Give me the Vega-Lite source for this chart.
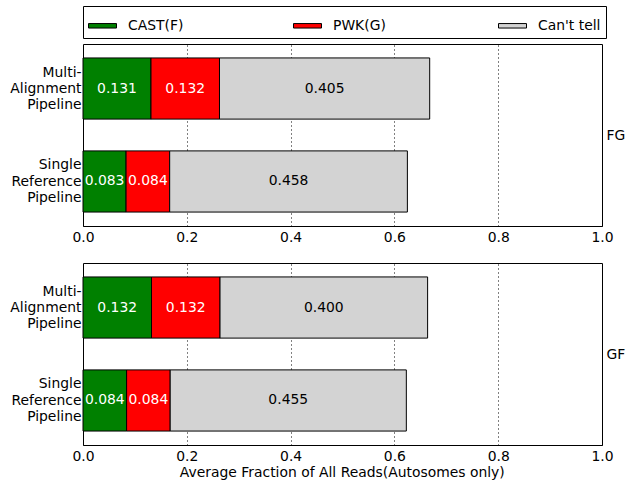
{
  "$schema": "https://vega.github.io/schema/vega-lite/v6.json",
  "padding": {"left": 9, "top": 5, "right": 0, "bottom": 2},
  "data": {
    "values": [
      {"panel": "FG", "pipeline": "Multi-|Alignment|Pipeline", "category": "CAST(F)", "order": 1, "value": 0.131},
      {"panel": "FG", "pipeline": "Multi-|Alignment|Pipeline", "category": "PWK(G)", "order": 2, "value": 0.132},
      {"panel": "FG", "pipeline": "Multi-|Alignment|Pipeline", "category": "Can't tell", "order": 3, "value": 0.405},
      {"panel": "FG", "pipeline": "Single|Reference|Pipeline", "category": "CAST(F)", "order": 1, "value": 0.083},
      {"panel": "FG", "pipeline": "Single|Reference|Pipeline", "category": "PWK(G)", "order": 2, "value": 0.084},
      {"panel": "FG", "pipeline": "Single|Reference|Pipeline", "category": "Can't tell", "order": 3, "value": 0.458},
      {"panel": "GF", "pipeline": "Multi-|Alignment|Pipeline", "category": "CAST(F)", "order": 1, "value": 0.132},
      {"panel": "GF", "pipeline": "Multi-|Alignment|Pipeline", "category": "PWK(G)", "order": 2, "value": 0.132},
      {"panel": "GF", "pipeline": "Multi-|Alignment|Pipeline", "category": "Can't tell", "order": 3, "value": 0.400},
      {"panel": "GF", "pipeline": "Single|Reference|Pipeline", "category": "CAST(F)", "order": 1, "value": 0.084},
      {"panel": "GF", "pipeline": "Single|Reference|Pipeline", "category": "PWK(G)", "order": 2, "value": 0.084},
      {"panel": "GF", "pipeline": "Single|Reference|Pipeline", "category": "Can't tell", "order": 3, "value": 0.455}
    ]
  },
  "facet": {
    "row": {
      "field": "panel",
      "type": "nominal",
      "sort": ["FG", "GF"],
      "header": {"title": null, "labels": false}
    }
  },
  "spacing": 37,
  "bounds": "flush",
  "resolve": {"axis": {"x": "independent", "y": "independent"}, "scale": {"y": "independent"}},
  "title": {
    "text": "Average Fraction of All Reads(Autosomes only)",
    "orient": "bottom",
    "anchor": "middle",
    "offset": 3,
    "dx": 25,
    "font": "DejaVu Sans",
    "fontSize": 13.9,
    "fontWeight": "normal",
    "color": "black"
  },
  "spec": {
    "width": 519,
    "height": 182,
    "layer": [
      {
        "encoding": {
          "y": {
            "field": "pipeline",
            "type": "nominal",
            "sort": ["Multi-|Alignment|Pipeline", "Single|Reference|Pipeline"],
            "scale": {"paddingInner": 0.342, "paddingOuter": 0.15},
            "axis": {
              "title": null,
              "labelExpr": "split(datum.label, '|')",
              "ticks": false,
              "domain": false,
              "grid": false,
              "labelPadding": 2,
              "labelOffset": -16,
              "labelFontSize": 13.9,
              "labelLineHeight": 16.3,
              "labelAlign": "right",
              "labelBaseline": "middle"
            }
          }
        },
        "layer": [
          {
            "mark": {"type": "bar", "stroke": "black", "strokeWidth": 1},
            "encoding": {
              "x": {
                "field": "value",
                "type": "quantitative",
                "stack": "zero",
                "scale": {"domain": [0, 1], "nice": false},
                "axis": {
                  "title": null,
                  "values": [0, 0.2, 0.4, 0.6, 0.8, 1],
                  "format": ".1f",
                  "ticks": false,
                  "domain": false,
                  "labelFlush": false,
                  "labelPadding": 4,
                  "labelFontSize": 13.9,
                  "gridColor": "black",
                  "gridOpacity": 1,
                  "gridDash": [1, 3],
                  "gridWidth": 1
                }
              },
              "color": {
                "field": "category",
                "type": "nominal",
                "scale": {"domain": ["CAST(F)", "PWK(G)", "Can't tell"], "range": ["#008000", "#ff0000", "#d3d3d3"]},
                "legend": {
                  "orient": "none",
                  "legendX": 0,
                  "legendY": -38,
                  "direction": "horizontal",
                  "columns": 3,
                  "gridAlign": "all",
                  "columnPadding": 100,
                  "padding": 5,
                  "strokeColor": "black",
                  "title": null,
                  "symbolType": "M-1,-0.16H1V0.16H-1Z",
                  "symbolSize": 784,
                  "symbolStrokeColor": "black",
                  "symbolStrokeWidth": 1,
                  "symbolOpacity": 1,
                  "labelOffset": 11,
                  "labelFont": "DejaVu Sans",
                  "labelFontSize": 13.9,
                  "labelColor": "black"
                }
              },
              "order": {"field": "order", "type": "quantitative"}
            }
          },
          {
            "mark": {"type": "text", "font": "DejaVu Sans", "fontSize": 13.9, "baseline": "middle", "align": "center"},
            "encoding": {
              "x": {"field": "value", "type": "quantitative", "stack": "zero", "bandPosition": 0.5},
              "detail": {"field": "category", "type": "nominal"},
              "order": {"field": "order", "type": "quantitative"},
              "text": {"field": "value", "type": "quantitative", "format": ".3f"},
              "color": {
                "condition": {"test": "datum.category == \"Can't tell\"", "value": "black"},
                "value": "white"
              }
            }
          }
        ]
      },
      {
        "mark": {"type": "point", "opacity": 0},
        "encoding": {
          "y": {
            "field": "panel",
            "type": "nominal",
            "axis": {
              "orient": "right",
              "title": null,
              "ticks": false,
              "domain": false,
              "grid": false,
              "labelPadding": 4,
              "labelAlign": "left",
              "labelBaseline": "middle",
              "labelFontSize": 13.9,
              "labelAngle": 0
            }
          }
        }
      }
    ],
    "resolve": {"scale": {"y": "independent"}}
  },
  "config": {
    "view": {"stroke": "black", "strokeWidth": 1},
    "font": "DejaVu Sans",
    "axis": {"labelFont": "DejaVu Sans", "labelColor": "black"}
  }
}
